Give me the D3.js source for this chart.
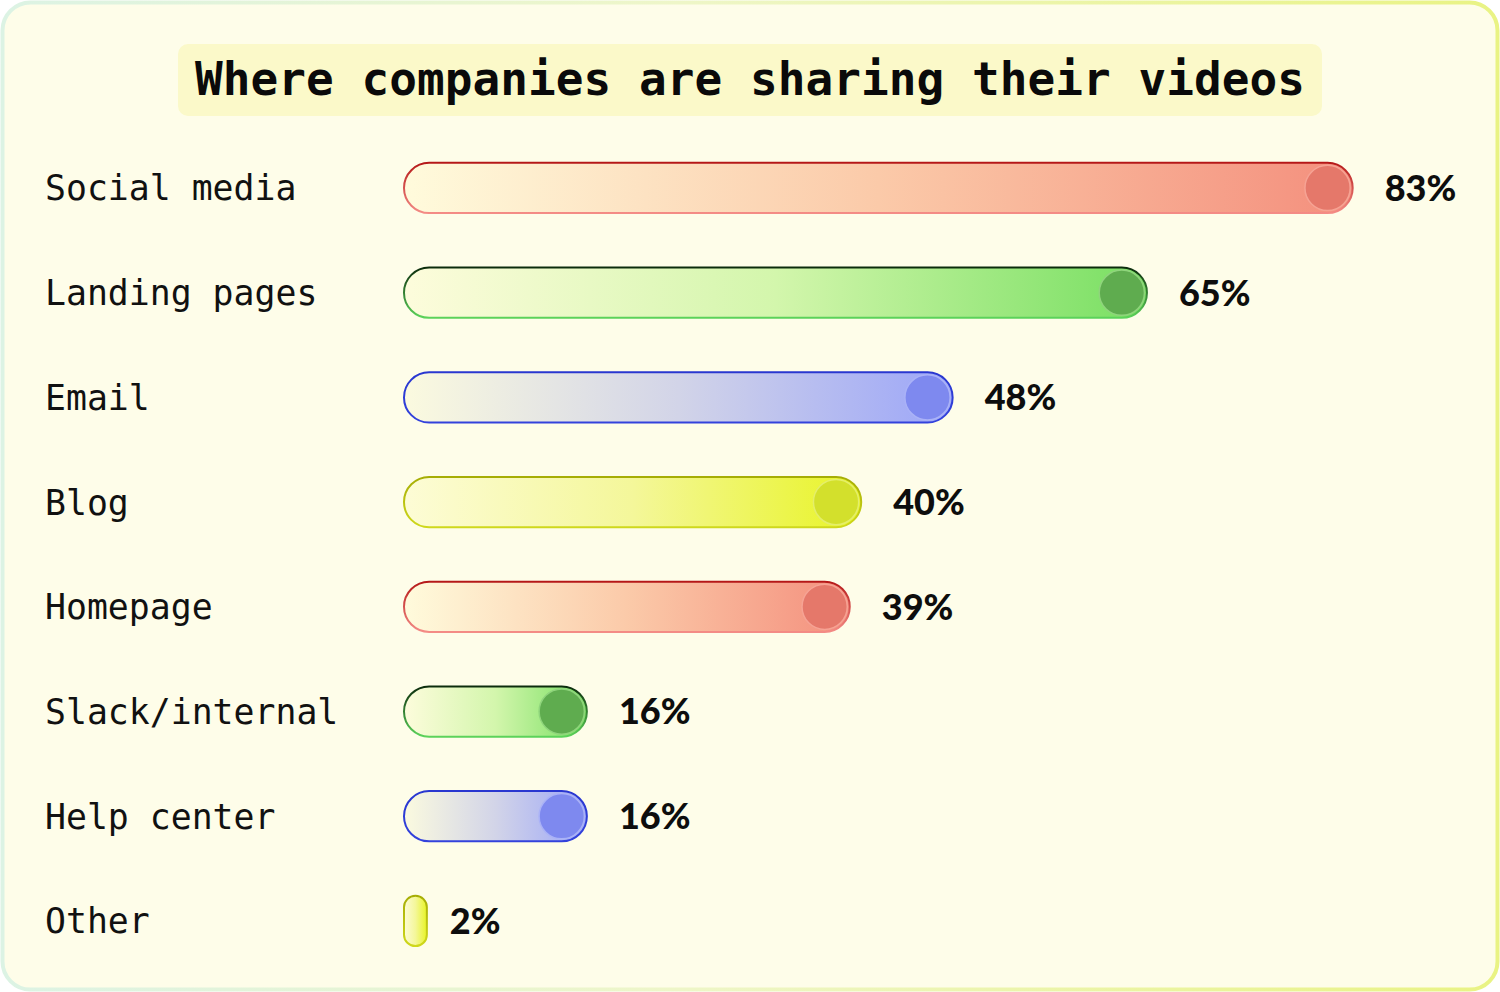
<!DOCTYPE html>
<html lang="en">
  <head>
    <meta charset="utf-8" />
    <title>Where companies are sharing their videos</title>
    <script type="text/javascript" src="https://d3js.org/d3.v7.min.js" charset="utf-8"></script>
    <style type="text/css">
      html, body { margin: 0; padding: 0; background: #ffffff; }
      svg { display: block; }
      .label { font-family: "DejaVu Sans Mono", "Liberation Mono", monospace; font-size: 34.8px; fill: #111; }
      .value { font-family: Lato, "Open Sans", sans-serif; font-weight: 900; font-size: 36px; fill: #0d0d0d; }
      .title { font-family: "DejaVu Sans Mono", monospace; font-weight: bold; font-size: 46px; fill: #0a0a0a; }
    </style>
  </head>
  <body>
    <script type="text/javascript">
      // data
      var categories = ["Social media", "Landing pages", "Email", "Blog", "Homepage", "Slack/internal", "Help center", "Other"];
      var shares = [83, 65, 48, 40, 39, 16, 16, 2];
      var titleText = "Where companies are sharing their videos";

      // colour sets cycle red, green, blue, yellow
      var palettes = [
        { id: "red", fill: ["#fffbdc", "#fbcaa9", "#f48f7d"], stroke: ["#b51818", "#f48c86"], knob: "#e5786a", rim: "#f6a394" },
        { id: "green", fill: ["#fdfcdc", "#d3f6ac", "#78df62"], stroke: ["#0c2c0c", "#5cd35a"], knob: "#5fac4f", rim: "#8fd47c" },
        { id: "blue", fill: ["#fbfadf", "#d2d4e8", "#9ca6f8"], stroke: ["#2937d0", "#3342dc"], knob: "#7e89ef", rim: "#aab2f7" },
        { id: "yellow", fill: ["#fdfcd6", "#f4f79a", "#e8f426"], stroke: ["#a6ad05", "#cfd81c"], knob: "#d3e02c", rim: "#e4ee6a" }
      ];

      var W = 1500, H = 992;

      var svg = d3.select("body").append("svg")
        .attr("width", W)
        .attr("height", H);

      var defs = svg.append("defs");

      // card border gradient
      var cg = defs.append("linearGradient").attr("id", "cardStroke")
        .attr("x1", "0%").attr("y1", "0%").attr("x2", "100%").attr("y2", "0%");
      cg.append("stop").attr("offset", "0%").attr("stop-color", "#dcf3e4");
      cg.append("stop").attr("offset", "45%").attr("stop-color", "#eef6c8");
      cg.append("stop").attr("offset", "100%").attr("stop-color", "#e9f384");

      palettes.forEach(function (p) {
        var g = defs.append("linearGradient").attr("id", "fill-" + p.id)
          .attr("x1", "0%").attr("y1", "0%").attr("x2", "100%").attr("y2", "0%");
        g.selectAll("stop").data(p.fill).join("stop")
          .attr("offset", (d, i) => (i / (p.fill.length - 1)) * 100 + "%")
          .attr("stop-color", d => d);
        var s = defs.append("linearGradient").attr("id", "stroke-" + p.id)
          .attr("x1", "0%").attr("y1", "0%").attr("x2", "0%").attr("y2", "100%");
        s.append("stop").attr("offset", "0%").attr("stop-color", p.stroke[0]);
        s.append("stop").attr("offset", "100%").attr("stop-color", p.stroke[1]);
      });

      // card
      svg.append("rect")
        .attr("x", 2.5).attr("y", 2.5)
        .attr("width", W - 5).attr("height", H - 5)
        .attr("rx", 28)
        .attr("fill", "#fefde9")
        .attr("stroke", "url(#cardStroke)")
        .attr("stroke-width", 4);

      // title
      svg.append("rect")
        .attr("x", 178).attr("y", 44)
        .attr("width", 1144).attr("height", 72)
        .attr("rx", 10)
        .attr("fill", "#fbf9c9");
      svg.append("text")
        .attr("class", "title")
        .attr("x", 750).attr("y", 79)
        .attr("text-anchor", "middle")
        .attr("dominant-baseline", "central")
        .attr("textLength", 1110)
        .text(titleText);

      // scales
      var x = d3.scaleLinear().domain([0, 100]).range([404, 1547]);
      var y = d3.scaleBand()
        .domain(categories)
        .range([135.6, 973.3])
        .paddingInner(0.52)
        .paddingOuter(0.26);
      var bh = y.bandwidth();

      var rows = svg.append("g").selectAll("g.row")
        .data(categories.map((c, i) => ({ cat: c, v: shares[i], p: palettes[i % palettes.length] })))
        .join("g")
        .attr("class", "row")
        .attr("transform", d => `translate(0,${y(d.cat)})`);

      rows.append("text")
        .attr("class", "label")
        .attr("x", 45)
        .attr("y", bh / 2)
        .attr("dy", "0.36em")
        .text(d => d.cat);

      rows.append("rect")
        .attr("x", x(0))
        .attr("y", 0)
        .attr("width", d => x(d.v) - x(0))
        .attr("height", bh)
        .attr("rx", d => Math.min(bh / 2, (x(d.v) - x(0)) / 2))
        .attr("fill", d => `url(#fill-${d.p.id})`)
        .attr("stroke", d => `url(#stroke-${d.p.id})`)
        .attr("stroke-width", 2);

      // knob at the right end
      rows.filter(d => x(d.v) - x(0) > bh)
        .append("circle")
        .attr("cx", d => x(d.v) - bh / 2)
        .attr("cy", bh / 2)
        .attr("r", bh / 2 - 2.5)
        .attr("fill", d => d.p.knob)
        .attr("stroke", d => d.p.rim)
        .attr("stroke-width", 1.5);

      rows.append("text")
        .attr("class", "value")
        .attr("x", d => x(d.v) + (x(d.v) - x(0) > bh ? 32 : 23))
        .attr("y", bh / 2)
        .attr("dy", "0.36em")
        .text(d => d.v + "%");
    </script>
  </body>
</html>
